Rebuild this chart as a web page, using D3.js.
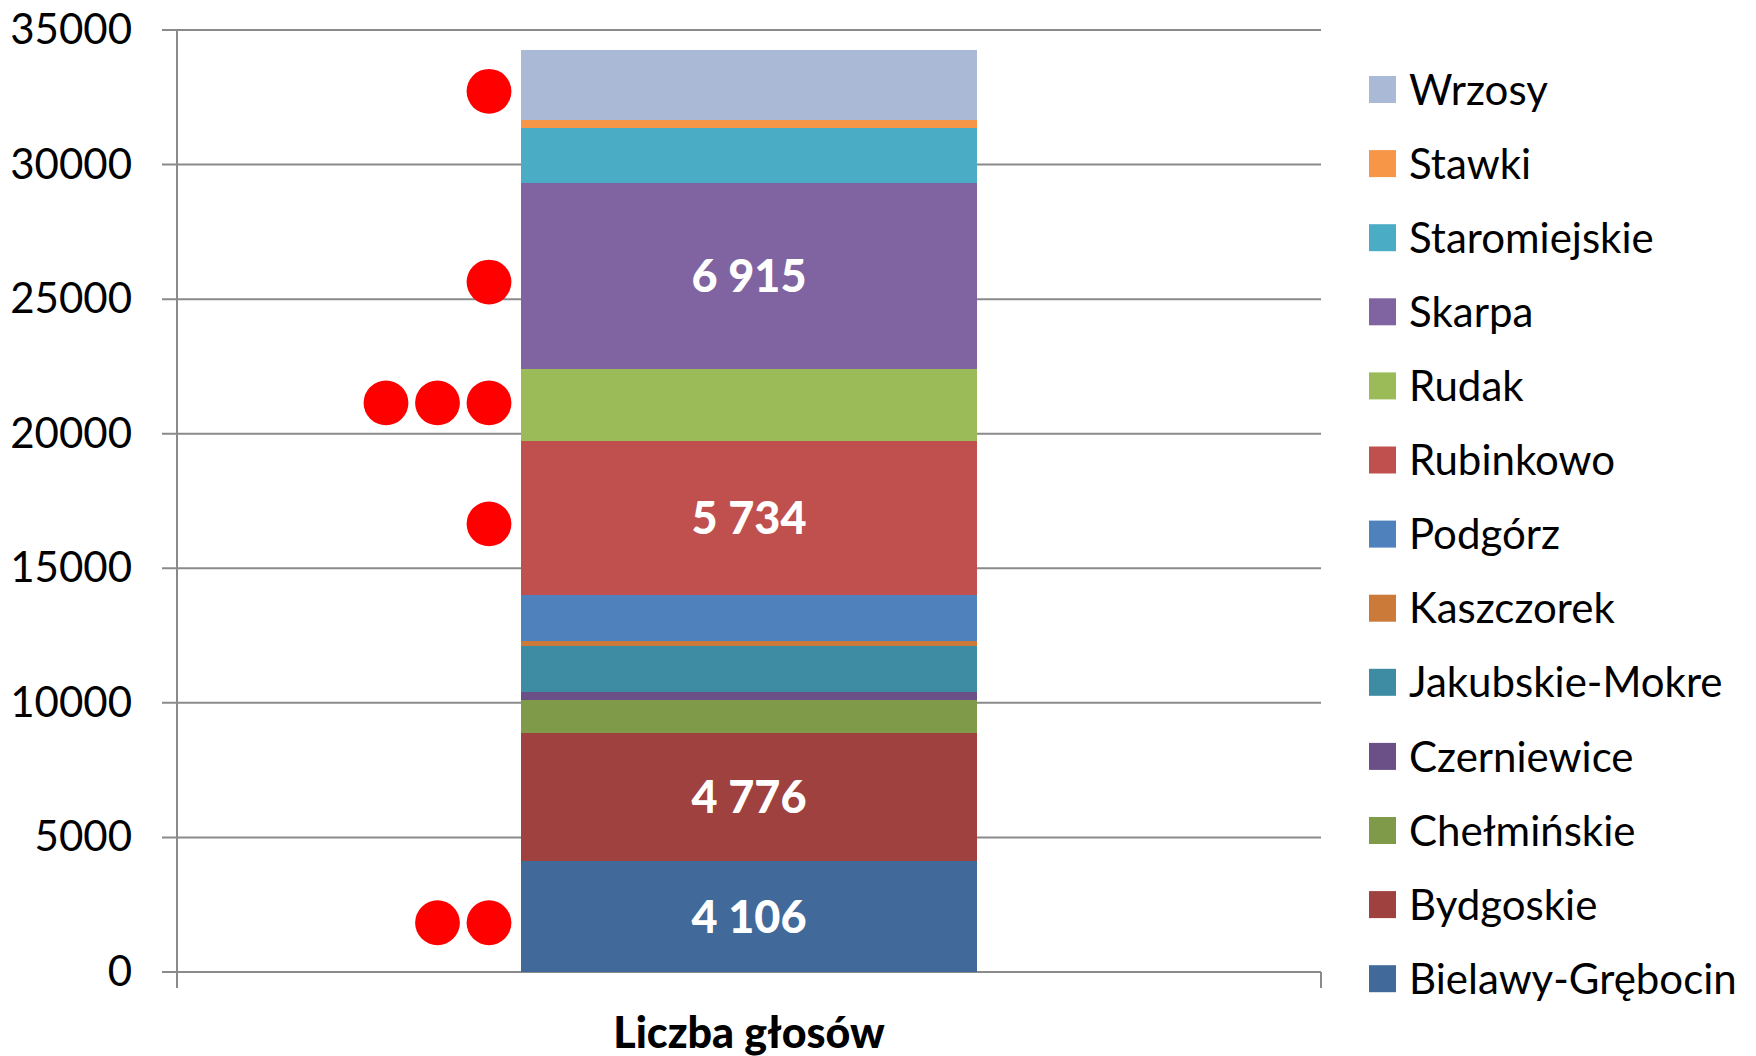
<!DOCTYPE html>
<html>
<head>
<meta charset="utf-8">
<script src="https://cdn.jsdelivr.net/npm/d3@7"></script>
<style>
  body { margin: 0; background: #fff; }
  svg { display: block; }
  text { font-family: Lato, "Open Sans", sans-serif; }
</style>
</head>
<body>
<div id="chart"></div>
<script>
var WIDTH = 1756;
var HEIGHT = 1056;

// data, bottom of the stack first
var categories = ["Liczba głosów"];
var districts = ["Bielawy-Grębocin", "Bydgoskie", "Chełmińskie", "Czerniewice",
  "Jakubskie-Mokre", "Kaszczorek", "Podgórz", "Rubinkowo", "Rudak", "Skarpa",
  "Staromiejskie", "Stawki", "Wrzosy"];
var votes = [4106, 4776, 1211, 326, 1678, 217, 1693, 5734, 2660, 6915, 2033, 297, 2599];
var colors = ["#416A9B", "#9E413F", "#7F9A48", "#6A5086", "#3D8CA3", "#CB7A39",
  "#4F81BD", "#C0504D", "#9BBB59", "#8064A2", "#4BACC6", "#F79646", "#AAB9D6"];
var showLabel = [true, true, false, false, false, false, false, true, false, true, false, false, false];
var dotCounts = [2, 0, 0, 0, 0, 0, 0, 1, 3, 1, 0, 0, 1];
var yTicks = [0, 5000, 10000, 15000, 20000, 25000, 30000, 35000];

var plot = {left: 177, right: 1321, top: 30, bottom: 972};

var plFormat = d3.formatLocale({decimal: ",", thousands: " ", grouping: [3], currency: ["", " zł"]}).format(",d");

var svg = d3.select("#chart").append("svg")
  .attr("width", WIDTH)
  .attr("height", HEIGHT);

var y = d3.scaleLinear()
  .domain([0, 35000])
  .range([plot.bottom, plot.top]);

var x = d3.scaleBand()
  .domain(categories)
  .range([plot.left, plot.right])
  .padding(0.43);

// one row table for d3.stack
var row = {};
districts.forEach(function(d, i){ row[d] = votes[i]; });
var series = d3.stack().keys(districts)([row]);

// gridlines (with the little tick stub left of the axis)
svg.append("g")
  .attr("class", "grid")
  .selectAll("line")
  .data(yTicks)
  .enter().append("line")
    .attr("x1", plot.left - 15)
    .attr("x2", plot.right)
    .attr("y1", function(d){ return y(d); })
    .attr("y2", function(d){ return y(d); })
    .attr("stroke", "#8a8a8a")
    .attr("stroke-width", 2);

// y axis labels
var yAxis = svg.append("g")
  .attr("transform", "translate(" + plot.left + ",0)")
  .call(d3.axisLeft(y).tickValues(yTicks).tickSize(0).tickPadding(45).tickFormat(d3.format("d")));
yAxis.select(".domain").remove();
yAxis.selectAll("text")
  .attr("font-size", 42)
  .attr("fill", "#000")
  .style("font-family", "Lato, sans-serif");

// axis lines
svg.append("line")
  .attr("x1", plot.left).attr("x2", plot.left)
  .attr("y1", y(35000)).attr("y2", plot.bottom + 16)
  .attr("stroke", "#8a8a8a").attr("stroke-width", 2);
svg.append("line")
  .attr("x1", plot.right).attr("x2", plot.right)
  .attr("y1", plot.bottom).attr("y2", plot.bottom + 16)
  .attr("stroke", "#8a8a8a").attr("stroke-width", 2);

// stacked segments
var layer = svg.append("g").attr("class", "bars")
  .attr("shape-rendering", "crispEdges")
  .selectAll("g")
  .data(series)
  .enter().append("g")
    .attr("fill", function(d, i){ return colors[i]; });

layer.selectAll("rect")
  .data(function(d){ return d.map(function(p){ p.key = d.key; return p; }); })
  .enter().append("rect")
    .attr("x", function(d, i){ return x(categories[i]); })
    .attr("width", x.bandwidth())
    .attr("y", function(d){ return y(d[1]); })
    .attr("height", function(d){ return y(d[0]) - y(d[1]); });

// value labels
svg.append("g").attr("class", "labels")
  .selectAll("text")
  .data(series.filter(function(d, i){ return showLabel[i]; }))
  .enter().append("text")
    .attr("x", x(categories[0]) + x.bandwidth() / 2)
    .attr("y", function(d){ return y((d[0][0] + d[0][1]) / 2); })
    .attr("dy", "0.36em")
    .attr("text-anchor", "middle")
    .attr("fill", "#fff")
    .attr("font-weight", 900)
    .attr("font-size", 45)
    .text(function(d){ return plFormat(d[0][1] - d[0][0]); });

// red dots left of the bar
var dots = [];
series.forEach(function(s, i){
  for (var k = 0; k < dotCounts[i]; k++) {
    dots.push({mid: (s[0][0] + s[0][1]) / 2, k: k, n: dotCounts[i]});
  }
});
svg.append("g").attr("class", "dots")
  .selectAll("circle")
  .data(dots)
  .enter().append("circle")
    .attr("cx", function(d){ return x(categories[0]) - 32 - d.k * 51.5; })
    .attr("cy", function(d){ return y(d.mid) + (d.n === 3 ? -2 : 6); })
    .attr("r", 22.4)
    .attr("fill", "#FF0000");

// category axis label
var xAxis = svg.append("g")
  .attr("transform", "translate(0," + plot.bottom + ")")
  .call(d3.axisBottom(x).tickSize(0).tickPadding(45));
xAxis.select(".domain").remove();
xAxis.selectAll("text")
  .attr("font-size", 43)
  .attr("font-weight", 900)
  .attr("fill", "#000")
  .style("font-family", "Lato, sans-serif");

// legend, top entry is the last series
var legend = svg.append("g").attr("class", "legend")
  .attr("transform", "translate(1369,76)");
var entries = districts.map(function(d, i){ return {name: d, color: colors[i]}; }).reverse();
var item = legend.selectAll("g")
  .data(entries)
  .enter().append("g")
    .attr("transform", function(d, i){ return "translate(0," + (i * 74.1) + ")"; });
item.append("rect")
  .attr("width", 27).attr("height", 27)
  .attr("fill", function(d){ return d.color; });
item.append("text")
  .attr("x", 40)
  .attr("y", 13.5)
  .attr("dy", "0.36em")
  .attr("font-size", 42)
  .attr("fill", "#000")
  .text(function(d){ return d.name; });
</script>
</body>
</html>
